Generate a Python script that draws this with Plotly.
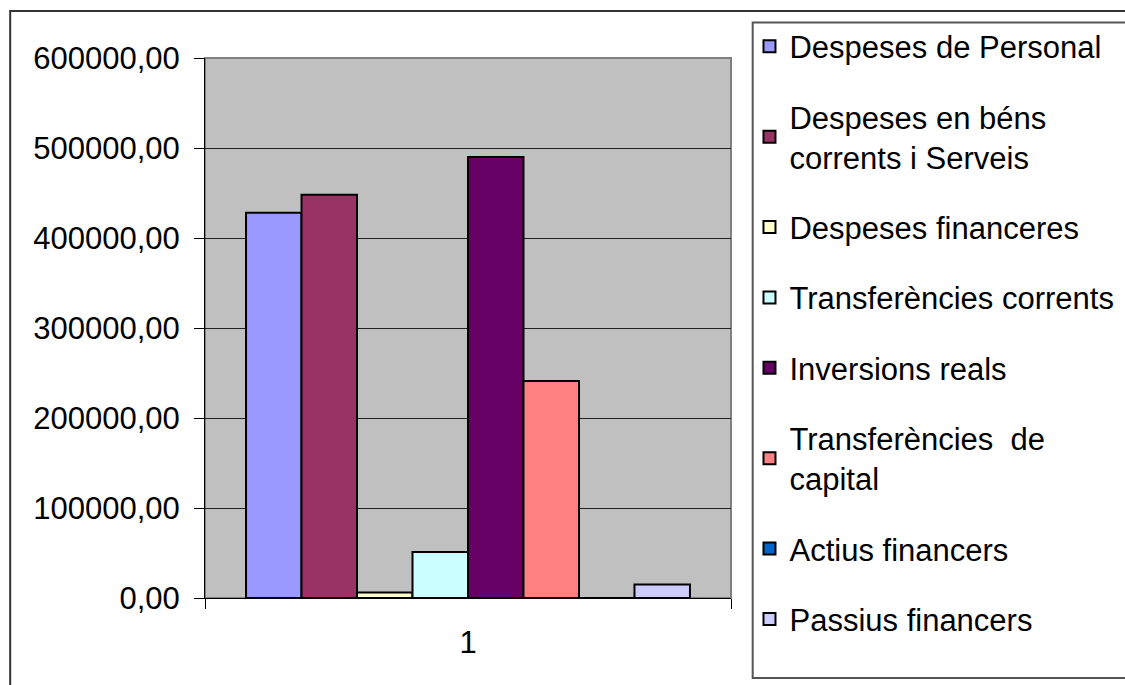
import plotly.graph_objects as go

categories = ["1"]
series_names = [
    "Despeses de Personal",
    "Despeses en béns<br>corrents i Serveis",
    "Despeses financeres",
    "Transferències corrents",
    "Inversions reals",
    "Transferències\u00a0 de<br>capital",
    "Actius financers",
    "Passius financers",
]
series_values = [428000, 448000, 6000, 51000, 490000, 241000, 0, 15000]
series_colors = ["#9999FF", "#993366", "#FFFFCC", "#CCFFFF",
                 "#660066", "#FF8080", "#0066CC", "#CCCCFF"]
y_ticks = [0, 100000, 200000, 300000, 400000, 500000, 600000]

FONT = "Liberation Sans, Arial, sans-serif"
FS = 31

fig = go.Figure()
for i, (name, val, col) in enumerate(zip(series_names, series_values, series_colors)):
    fig.add_trace(go.Bar(
        x=categories, y=[val], name=name,
        marker=dict(color=col, line=dict(color="#000000", width=2)),
        legendgroup=f"g{i}",
    ))

W, H = 1125, 685
L, R, T, B = 204.5, 731, 57.5, 598
pw, ph = R - L, B - T

def px(x):
    return (x - L) / pw

def py(y):
    return (B - y) / ph

fig.update_layout(
    width=W, height=H,
    margin=dict(l=L, r=W - R, t=T, b=H - B, pad=0, autoexpand=False),
    paper_bgcolor="white",
    plot_bgcolor="#C0C0C0",
    barmode="group",
    bargap=0.156,
    bargroupgap=0,
    separators=",.",
    font=dict(family=FONT, size=FS, color="black"),
    legend=dict(
        x=px(749.5), y=py(19), xanchor="left", yanchor="top",
        borderwidth=0, bgcolor="rgba(0,0,0,0)",
        font=dict(family=FONT, size=FS, color="black"),
        tracegroupgap=27, traceorder="grouped", maxheight=700,
    ),
    xaxis=dict(
        type="category", showgrid=False, showline=True, linecolor="black", linewidth=1,
        ticks="outside", ticklen=10, tickcolor="black", tickson="boundaries",
        tickfont=dict(family=FONT, size=FS, color="black"),
        zeroline=False, ticklabelstandoff=17,
    ),
    yaxis=dict(
        range=[0, 600000], tickvals=y_ticks, tickformat=".2f",
        showgrid=True, gridcolor="#222222", gridwidth=1,
        showline=True, linecolor="black", linewidth=1,
        ticks="outside", ticklen=10, tickcolor="black",
        tickfont=dict(family=FONT, size=FS, color="black"),
        zeroline=False, ticklabelstandoff=8,
    ),
    shapes=[
        # plot area border (gray)
        dict(type="rect", xref="paper", yref="paper", x0=0, x1=1, y0=0, y1=1,
             line=dict(color="#808080", width=2), layer="below"),
        # outer chart frame
        dict(type="rect", xref="paper", yref="paper",
             x0=px(9.5), x1=px(1135), y0=py(10.5), y1=py(695),
             line=dict(color="#333333", width=2)),
        # legend frame
        dict(type="rect", xref="paper", yref="paper",
             x0=px(752.7), x1=px(1135), y0=py(22), y1=py(678),
             line=dict(color="#555555", width=2)),
    ],
)

fig.write_html("out.html", config={"displayModeBar": False},
               post_script="document.body.style.margin='0';")
